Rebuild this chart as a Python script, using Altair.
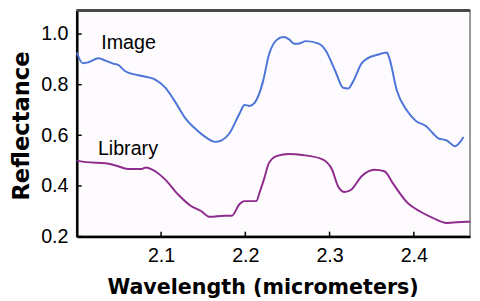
import altair as alt
import pandas as pd

# Image spectrum (blue)
image_wl = [2.000, 2.007, 2.012, 2.026, 2.034, 2.043, 2.049, 2.058, 2.073, 2.093,
            2.105, 2.116, 2.128, 2.143, 2.155, 2.164, 2.172, 2.181, 2.193, 2.199,
            2.205, 2.211, 2.221, 2.228, 2.237, 2.245, 2.252, 2.258, 2.263, 2.272,
            2.287, 2.295, 2.307, 2.316, 2.322, 2.328, 2.338, 2.345, 2.357, 2.368,
            2.371, 2.380, 2.392, 2.402, 2.415, 2.423, 2.429, 2.439, 2.449, 2.459]
image_refl = [0.927, 0.885, 0.887, 0.904, 0.895, 0.883, 0.878, 0.852, 0.837, 0.820,
              0.788, 0.736, 0.671, 0.619, 0.588, 0.574, 0.580, 0.607, 0.685, 0.720,
              0.716, 0.728, 0.813, 0.918, 0.976, 0.988, 0.979, 0.962, 0.962, 0.972,
              0.962, 0.937, 0.852, 0.788, 0.785, 0.813, 0.884, 0.904, 0.918, 0.927,
              0.904, 0.775, 0.697, 0.658, 0.635, 0.607, 0.588, 0.580, 0.557, 0.593]

# Library spectrum (purple)
library_wl = [2.000, 2.011, 2.034, 2.046, 2.061, 2.077, 2.082, 2.093, 2.105, 2.120,
              2.135, 2.147, 2.158, 2.175, 2.184, 2.193, 2.199, 2.213, 2.217, 2.222,
              2.228, 2.237, 2.252, 2.268, 2.291, 2.303, 2.310, 2.318, 2.326, 2.338,
              2.353, 2.365, 2.376, 2.392, 2.408, 2.423, 2.439, 2.462, 2.467]
library_refl = [0.500, 0.494, 0.490, 0.481, 0.467, 0.467, 0.473, 0.458, 0.425, 0.367,
                0.322, 0.302, 0.278, 0.282, 0.282, 0.328, 0.340, 0.340, 0.375, 0.425,
                0.490, 0.518, 0.526, 0.522, 0.506, 0.464, 0.399, 0.376, 0.386, 0.438,
                0.464, 0.458, 0.406, 0.335, 0.298, 0.273, 0.254, 0.259, 0.259]

label_names = ["Image", "Library"]
label_wl = [2.029, 2.025]
label_refl = [0.942, 0.522]

x_ticks = [2.1, 2.2, 2.3, 2.4]
y_ticks = [0.2, 0.4, 0.6, 0.8, 1.0]

X_DOMAIN = [2.0, 2.4667]
Y_DOMAIN = [0.2, 1.093]

img = pd.DataFrame({"wl": image_wl, "refl": image_refl})
lib = pd.DataFrame({"wl": library_wl, "refl": library_refl})
labels = pd.DataFrame({"name": label_names, "wl": label_wl, "refl": label_refl})
xt = pd.DataFrame({"wl": x_ticks})
yt = pd.DataFrame({"refl": y_ticks})

xscale = alt.Scale(domain=X_DOMAIN, nice=False, zero=False)
yscale = alt.Scale(domain=Y_DOMAIN, nice=False, zero=False)

xaxis = alt.Axis(values=x_ticks, format=".1f", title="Wavelength (micrometers)",
                 grid=False, ticks=False, domainColor="black", domainWidth=2.5,
                 labelFont="Liberation Sans", labelFontSize=20, labelColor="black",
                 labelPadding=9,
                 titleFont="DejaVu Sans", titleFontSize=21, titleFontWeight="bold",
                 titleColor="black", titleX=189, titleY=58, titleAlign="center",
                 titleBaseline="alphabetic")
yaxis = alt.Axis(values=y_ticks, format=".1f", title="Reflectance",
                 grid=False, ticks=False, domainColor="black", domainWidth=2.5,
                 labelFont="Liberation Sans", labelFontSize=20, labelColor="black",
                 labelPadding=9,
                 titleFont="DejaVu Sans", titleFontSize=23, titleFontWeight="bold",
                 titleColor="black", titleX=-49, titleY=117, titleAngle=270,
                 titleAlign="center", titleBaseline="alphabetic")

base_lib = alt.Chart(lib).mark_line(color="#8e2c8e", strokeWidth=2, interpolate="monotone").encode(
    x=alt.X("wl:Q", scale=xscale, axis=xaxis),
    y=alt.Y("refl:Q", scale=yscale, axis=yaxis),
)
base_img = alt.Chart(img).mark_line(color="#4d74d9", strokeWidth=2, interpolate="monotone").encode(
    x=alt.X("wl:Q", scale=xscale),
    y=alt.Y("refl:Q", scale=yscale),
)
text = alt.Chart(labels).mark_text(font="Liberation Sans", fontSize=20, color="black",
                                   align="left", baseline="alphabetic").encode(
    x=alt.X("wl:Q", scale=xscale),
    y=alt.Y("refl:Q", scale=yscale),
    text="name:N",
)
xtick_marks = alt.Chart(xt).mark_rule(color="black", strokeWidth=1.5).encode(
    x=alt.X("wl:Q", scale=xscale),
    y=alt.value(230),
    y2=alt.value(225),
)
ytick_marks = alt.Chart(yt).mark_rule(color="black", strokeWidth=1.5).encode(
    y=alt.Y("refl:Q", scale=yscale),
    x=alt.value(0),
    x2=alt.value(5),
)
top_edge = alt.Chart(xt).mark_rule(color="#444444", strokeWidth=2).encode(
    x=alt.value(0),
    x2=alt.value(400),
    y=alt.value(0),
)

chart = alt.layer(base_lib, base_img, text, xtick_marks, ytick_marks, top_edge).properties(
    width=400, height=230,
    autosize=alt.AutoSizeParams(type="none"),
    padding={"left": 70, "top": 0, "right": 2, "bottom": 63},
    background="white",
).configure_view(
    stroke="#9a9a9a", strokeWidth=2, fill="#fdfbfd"
)

chart.save("out.html", embed_options={"renderer": "svg", "actions": False})
